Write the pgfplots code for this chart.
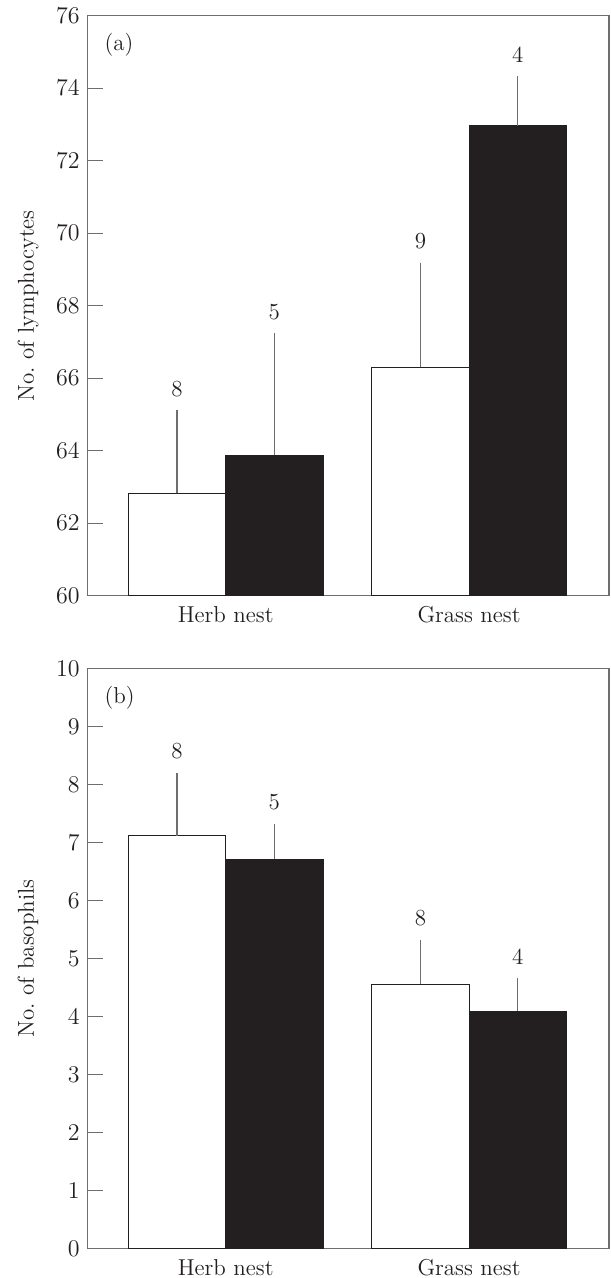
\documentclass[border=0pt]{standalone}
\usepackage{pgfplots}
\pgfplotsset{compat=1.18}
\definecolor{ink}{HTML}{231F20}
\definecolor{framec}{HTML}{6D6E71}
\begin{document}
\fontsize{11.5}{13.5}\selectfont
\begin{tikzpicture}
\useasboundingbox (0,0) rectangle (305pt,-639pt);
\pgfplotsset{
 panel/.style={
  scale only axis, width=260.65pt, height=290pt,
  xmin=-0.567, xmax=1.575,
  xtick={0,1}, xticklabels={Herb nest, Grass nest},
  x tick style={draw=none},
  ytick pos=left, tick align=inside, major tick length=7.5pt,
  axis line style={framec, line width=0.6pt},
  y tick style={framec, line width=0.6pt},
  ylabel style={at={(axis description cs:0,0.5)}, anchor=center, yshift=29.85pt, text=ink, font=\fontsize{11.5}{13.5}\selectfont},
  tick label style={font=\fontsize{11.5}{13.5}\selectfont, text=ink},
  x tick label style={yshift=-1.5pt},
 },
 wbar/.style={ybar, bar width=0.4, bar shift=0pt, fill=white, draw=ink, line width=0.5pt,
  error bars/.cd, y dir=plus, y explicit, error mark=none, error bar style={framec, line width=0.6pt}},
 bbar/.style={ybar, bar width=0.4, bar shift=0pt, fill=ink, draw=ink, line width=0.5pt,
  error bars/.cd, y dir=plus, y explicit, error mark=none, error bar style={framec, line width=0.6pt}},
 nlab/.style={draw=none, mark=none, nodes near coords, point meta=explicit symbolic,
  every node near coord/.append style={anchor=south, inner sep=0pt, yshift=6.5pt, text=ink, font=\fontsize{11.5}{13.5}\selectfont}},
}
% (a)
\begin{axis}[panel, at={(43.85pt,-7.85pt)}, anchor=north west,
  ymin=60, ymax=76, ytick={60,62,...,76},
  ylabel={No.\ of lymphocytes}]
\addplot[wbar] coordinates {(-0.2,62.83) +- (0,2.29) (0.8,66.30) +- (0,2.89)};
\addplot[bbar] coordinates {(0.2,63.88) +- (0,3.36) (1.2,72.97) +- (0,1.37)};
\addplot[nlab] coordinates {(-0.2,65.12)[8] (0.2,67.24)[5] (0.8,69.19)[9] (1.2,74.34)[4]};
\node[anchor=north west, inner sep=0pt, text=ink] at (rel axis cs:0,1) [xshift=8.2pt, yshift=-8.6pt] {(a)};
\end{axis}
% (b)
\begin{axis}[panel, at={(43.85pt,-334.15pt)}, anchor=north west,
  ymin=0, ymax=10, ytick={0,1,...,10},
  ylabel={No.\ of basophils}]
\addplot[wbar] coordinates {(-0.2,7.11) +- (0,1.09) (0.8,4.55) +- (0,0.77)};
\addplot[bbar] coordinates {(0.2,6.71) +- (0,0.61) (1.2,4.09) +- (0,0.57)};
\addplot[nlab] coordinates {(-0.2,8.20)[8] (0.2,7.32)[5] (0.8,5.32)[8] (1.2,4.66)[4]};
\node[anchor=north west, inner sep=0pt, text=ink] at (rel axis cs:0,1) [xshift=8.2pt, yshift=-8.6pt] {(b)};
\end{axis}
\end{tikzpicture}
\end{document}
